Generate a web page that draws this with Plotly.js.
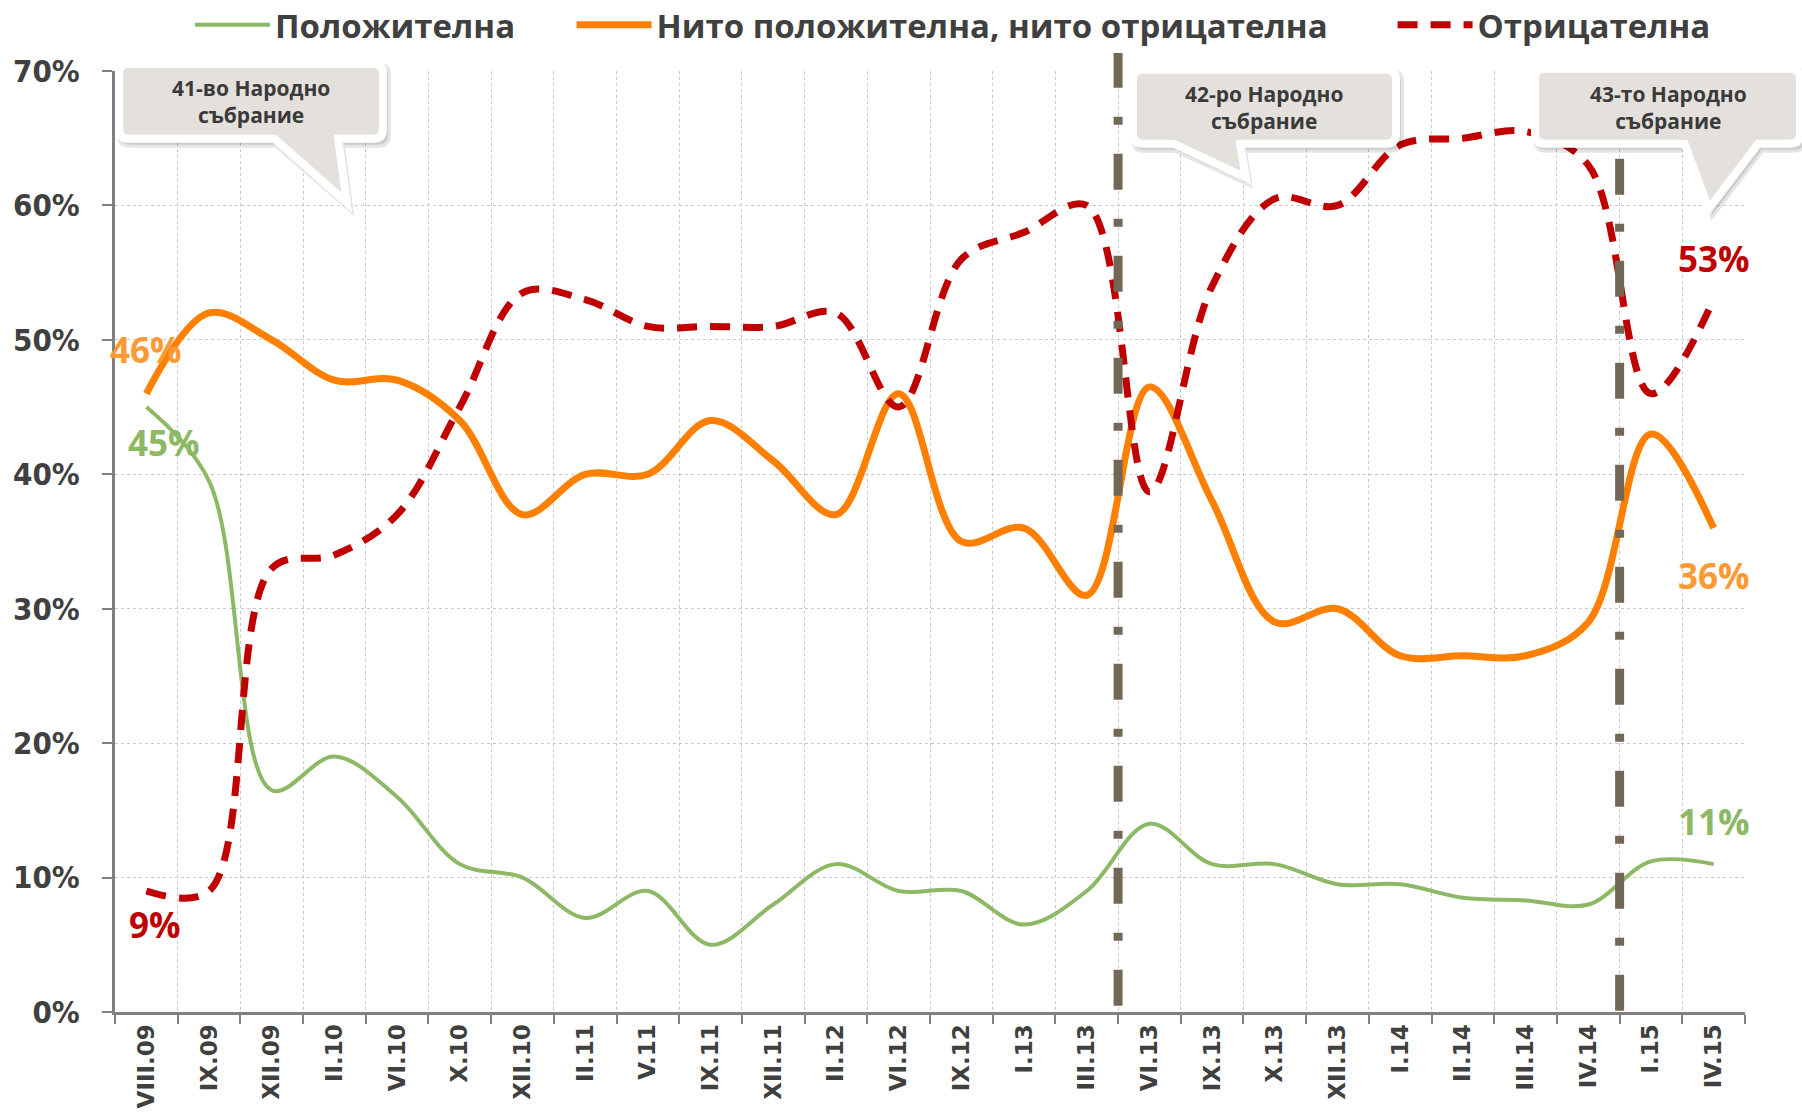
<!DOCTYPE html>
<html>
<head>
<meta charset="utf-8">
<script src="https://cdn.plot.ly/plotly-3.0.1.min.js"></script>
<style>html,body{margin:0;padding:0;background:#fff;}#chart{width:1802px;height:1114px;}</style>
</head>
<body>
<div id="chart"></div>
<script>
const categories = ['VIII.09','IX.09','XII.09','II.10','VI.10','X.10','XII.10','II.11','V.11','IX.11','XII.11','II.12','VI.12','IX.12','I.13','III.13','VI.13','IX.13','X.13','XII.13','I.14','II.14','III.14','IV.14','I.15','IV.15'];
const positive = [45,39.5,16.5,19,16,11,10,7,9,5,8,11,9,9,6.5,9,14,11,11,9.5,9.5,8.5,8.3,8,11.2,11];
const neutral  = [46,52,50,47,47,44,37,40,40,44,41,37,46,35,36,31,46.5,38,29,30,26.5,26.5,26.5,29,43,36];
const negative = [9,9,33,34,37,45,53.5,53,51,51,51,52,45,56,58,60,38.7,54,60.5,60,64.5,65,65.5,63,46,53];
const seriesNames = ['Положителна','Нито положителна, нито отрицателна','Отрицателна'];
const parliaments = ['41-во Народно<br>събрание','42-ро Народно<br>събрание','43-то Народно<br>събрание'];

const L=115, R=1745, T=71.3, B=1012.5;
const px = x => (x-L)/(R-L);
const py = y => (B-y)/(B-T);
const pad1 = '\u00A0'.repeat(6);
const pad2 = '\u00A0'.repeat(7);

function callout(x1,y1,x2,y2,a,b,tx,ty,e,dx,dy){
  x1-=e;y1-=e;x2+=e;y2+=e;a-=e*0.6;b+=e*0.3;tx+=e*0.2;ty+=e;
  x1+=dx;x2+=dx;a+=dx;b+=dx;tx+=dx;y1+=dy;y2+=dy;ty+=dy;
  const r=10;
  const P=(x,y)=>px(x).toFixed(5)+','+py(y).toFixed(5);
  return 'M'+P(x1+r,y1)+' L'+P(x2-r,y1)+' Q'+P(x2,y1)+' '+P(x2,y1+r)+
    ' L'+P(x2,y2-r)+' Q'+P(x2,y2)+' '+P(x2-r,y2)+
    ' L'+P(b,y2)+' L'+P(tx,ty)+' L'+P(a,y2)+
    ' L'+P(x1+r,y2)+' Q'+P(x1,y2)+' '+P(x1,y2-r)+
    ' L'+P(x1,y1+r)+' Q'+P(x1,y1)+' '+P(x1+r,y1)+' Z';
}
const boxes = [
  {g:[123,68,379,135], tail:[277,337,346,199], tx:251, ty:101.5},
  {g:[1137,74,1392,140], tail:[1176,1239,1245,174], tx:1264, ty:108},
  {g:[1539,73,1796,140], tail:[1687,1757,1708,205], tx:1668, ty:108}
];

const shapes = [];
shapes.push({type:'line', xref:'x', yref:'paper', x0:15.5, x1:15.5, y0:py(52), y1:0,
  line:{color:'#736858', width:9, dash:'36px,29px,8px,29px'}});
shapes.push({type:'line', xref:'x', yref:'paper', x0:23.5, x1:23.5, y0:py(159), y1:0,
  line:{color:'#736858', width:9, dash:'36px,29px,8px,29px'}});
boxes.forEach(bx=>{
  const [x1,y1,x2,y2]=bx.g, [a,b,tx,ty]=bx.tail;
  shapes.push({type:'path', xref:'paper', yref:'paper', path:callout(x1,y1,x2,y2,a,b,tx,ty,6,3,4),
    fillcolor:'rgba(0,0,0,0.10)', line:{color:'rgba(0,0,0,0.10)', width:6}});
  shapes.push({type:'path', xref:'paper', yref:'paper', path:callout(x1,y1,x2,y2,a,b,tx,ty,4,0,0),
    fillcolor:'#e4e1dc', line:{color:'#ffffff', width:8}});
});

const annotations = boxes.map((bx,i)=>({xref:'paper', yref:'paper', x:px(bx.tx), y:py(bx.ty),
  text:parliaments[i], showarrow:false, xanchor:'center', yanchor:'middle',
  font:{family:'Open Sans, sans-serif', size:21, color:'#3a3a3a', weight:'bold'}}));

const labelFont = c => ({family:'Open Sans, sans-serif', size:35, color:c, weight:'bold'});
const last = categories.length-1;
annotations.push(
  {x:categories[0], y:neutral[0], text:Math.round(neutral[0])+'%', showarrow:false, yshift:44, xshift:0, font:labelFont('#ff9933')},
  {x:categories[0], y:positive[0], text:Math.round(positive[0])+'%', showarrow:false, yshift:-35, xshift:18, font:labelFont('#8db866')},
  {x:categories[0], y:negative[0], text:Math.round(negative[0])+'%', showarrow:false, yshift:-33, xshift:9, font:labelFont('#c00000')},
  {x:categories[last], y:negative[last], text:Math.round(negative[last])+'%', showarrow:false, yshift:41, font:labelFont('#c00000')},
  {x:categories[last], y:neutral[last], text:Math.round(neutral[last])+'%', showarrow:false, yshift:-47, font:labelFont('#ff9933')},
  {x:categories[last], y:positive[last], text:Math.round(positive[last])+'%', showarrow:false, yshift:43, font:labelFont('#8db866')}
);

const traces = [
  {x:categories, y:positive, name:seriesNames[0]+pad1, type:'scatter', mode:'lines', line:{color:'#8db866', width:4, shape:'spline', smoothing:1}},
  {x:categories, y:neutral, name:seriesNames[1]+pad2, type:'scatter', mode:'lines', line:{color:'#ff8000', width:7, shape:'spline', smoothing:1}},
  {x:categories, y:negative, name:seriesNames[2], type:'scatter', mode:'lines', line:{color:'#c00000', width:7, shape:'spline', smoothing:1, dash:'20px,13px'}}
];

const layout = {
  width:1802, height:1114,
  margin:{l:L, r:1802-R, t:T, b:1114-B, autoexpand:false},
  paper_bgcolor:'#ffffff', plot_bgcolor:'#ffffff',
  showlegend:true,
  legend:{orientation:'h', x:px(190), xanchor:'left', y:py(25), yanchor:'middle',
    font:{family:'Open Sans, sans-serif', size:33, color:'#404040', weight:'bold'}, itemwidth:75, traceorder:'normal'},
  xaxis:{type:'category', range:[-0.5,25.5], tickson:'boundaries', ticks:'outside', ticklen:9, tickwidth:2, tickcolor:'#808080',
    showline:true, linecolor:'#808080', linewidth:3, showgrid:true, gridcolor:'#c8c8c8', griddash:'dot', gridwidth:1,
    tickangle:-90, tickfont:{family:'DejaVu Sans, sans-serif', size:23, color:'#404040', weight:'bold'}, fixedrange:true},
  yaxis:{range:[0,70], dtick:10, ticksuffix:'%', showline:true, linecolor:'#808080', linewidth:3, ticks:'outside', ticklen:10,
    tickwidth:2, tickcolor:'#808080', showgrid:true, gridcolor:'#c8c8c8', griddash:'dot', gridwidth:1, zeroline:false,
    tickfont:{family:'DejaVu Sans Condensed, sans-serif', size:31, color:'#404040', weight:'bold'}, ticklabelstandoff:16, fixedrange:true},
  shapes:shapes,
  annotations:annotations
};
Plotly.newPlot('chart', traces, layout, {displayModeBar:false, staticPlot:true});
</script>
</body>
</html>
